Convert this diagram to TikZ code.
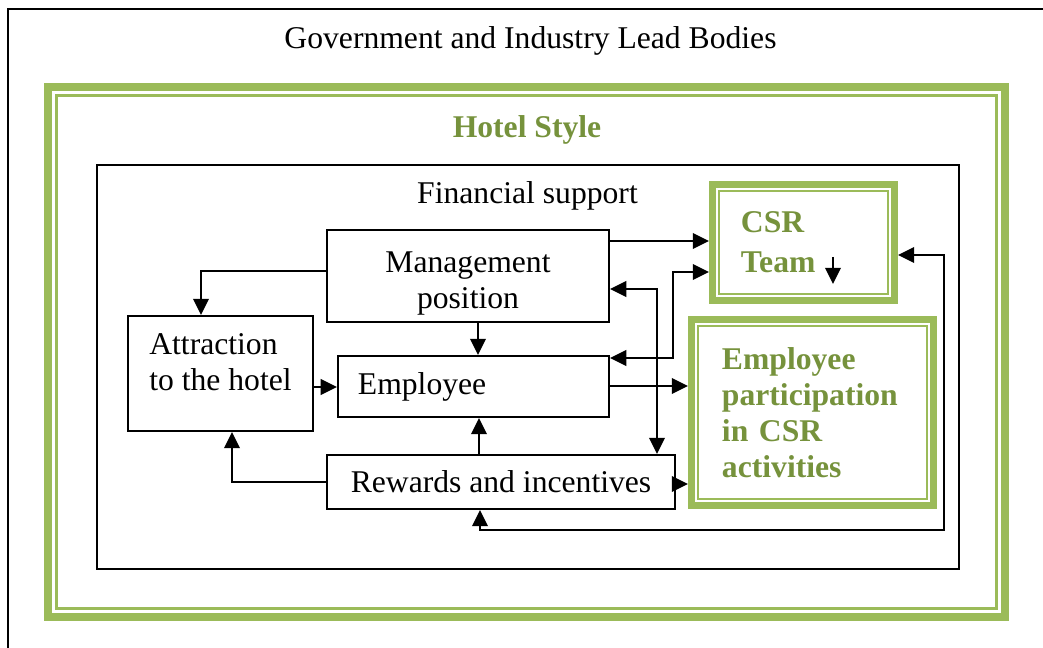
\documentclass[tikz,border=0pt]{standalone}
\usepackage{fontspec}
\setmainfont{Liberation Serif}
\usetikzlibrary{arrows.meta,positioning}
\definecolor{hgreen}{RGB}{155,187,89}
\definecolor{hdark}{RGB}{118,146,60}
\newcommand{\bigfont}{\fontsize{22.5}{25.5}\selectfont}
\tikzset{
  box/.style={draw, line width=1.5pt, inner sep=0pt, align=center},
  csrbox/.style={draw=hgreen, line width=0.17cm, inner sep=0pt, text=hdark, font=\bigfont\bfseries, align=left,
    path picture={\draw[hgreen, line width=0.06cm] ([shift={(0.17cm,0.17cm)}]path picture bounding box.south west) rectangle ([shift={(-0.17cm,-0.17cm)}]path picture bounding box.north east);}},
  arr/.style={line width=1.6pt, -{Triangle[length=11.5pt,width=11pt]}},
  both/.style={line width=1.6pt, {Triangle[length=11.5pt,width=11pt]}-{Triangle[length=11.5pt,width=11pt]}}
}
\begin{document}
\begin{tikzpicture}[x=0.025cm, y=-0.025cm, font=\bigfont]
\useasboundingbox (0,0) rectangle (1043,648);
\clip (0,0) rectangle (1043,648);

\draw[line width=1.5pt] (8,700) |- (1100,9);
\node[anchor=base] (gov) at (530.5,49) {Government and Industry Lead Bodies};

\draw[hgreen, line width=0.2cm] (48,87) rectangle (1005,617);
\draw[hgreen, line width=0.07cm] (56.5,95.5) rectangle (996.5,608.5);
\node[anchor=base, text=hdark, font=\bigfont\bfseries] (hotel) at (527,137.5) {Hotel Style};

\draw[line width=1.5pt] (97,165) rectangle (959,569);
\node[anchor=base] (fin) at (527.5,204) {Financial support};

\node[box, minimum width=7.05cm, minimum height=2.3cm] (mgmt) at (468,276)
  {\raisebox{-5pt}[\height][\depth]{\begin{tabular}{@{}c@{}}Management\\position\end{tabular}}};
\node[box, minimum width=4.625cm, minimum height=2.875cm] (attr) at (220.5,373.5)
  {\raisebox{6pt}[\height][\depth]{\begin{tabular}{@{}l@{}}Attraction\\to the hotel\end{tabular}}};
\node[box, align=left, text width=5.775cm, inner xsep=0.5cm, minimum height=1.525cm] (emp) at (473.5,386.5) {Employee};
\node[box, minimum width=8.7cm, minimum height=1.35cm] (rew) at (501,482) {Rewards and incentives};

\node[csrbox, text width=3.125cm, inner xsep=0.715cm, minimum height=2.905cm] (csr) at (803.5,242.5) {CSR\\[2.8pt]Team};
\node[csrbox, text width=4.525cm, inner xsep=0.765cm, minimum height=4.655cm] (ep) at (812.5,412.5) {Employee\\participation\\in CSR\\activities};

\coordinate (tk1) at (833,257);
\coordinate (tk2) at (833,284);

\draw[arr] (mgmt.east |- 0,241) -- (csr.west |- 0,241);
\draw[both] (emp.east |- 0,358) -| (673,272) -- (csr.west |- 0,272);
\draw[both] (mgmt.east |- 0,289) -| (rew.north -| 657,0);
\draw[arr] (emp.east |- 0,386) -- (ep.west |- 0,386);
\draw[arr] (rew.east |- 0,484) -- (ep.west |- 0,484);
\draw[arr] (mgmt.west |- 0,271) -| (attr.north -| 201,0);
\draw[arr] (mgmt.south -| 478,0) -- (emp.north -| 478,0);
\draw[arr] (attr.east |- 0,387) -- (emp.west |- 0,387);
\draw[arr] (rew.north -| 479,0) -- (emp.south -| 479,0);
\draw[arr] (rew.west) -| (attr.south -| 232,0);
\draw[both] (rew.south -| 480,0) |- (944,530) |- (csr.east |- 0,255);
\draw[arr] (tk1) -- (tk2);
\end{tikzpicture}
\end{document}
